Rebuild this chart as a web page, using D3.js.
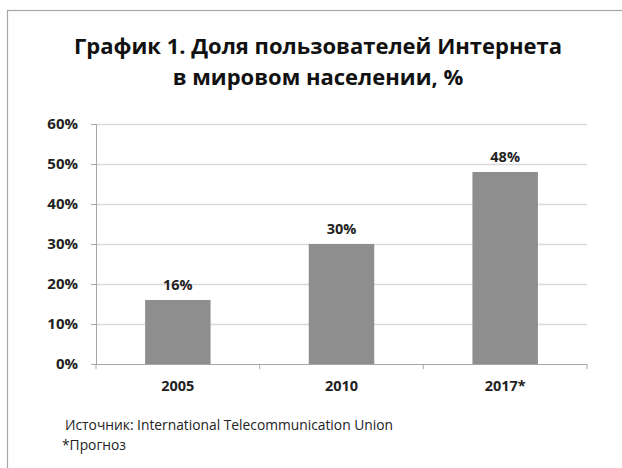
<!DOCTYPE html>
<html>
<head>
<meta charset="utf-8">
<script src="https://cdnjs.cloudflare.com/ajax/libs/d3/7.8.5/d3.min.js"></script>
<style>
body{margin:0;background:#fff;}
svg{display:block;font-family:"Open Sans","Noto Sans",sans-serif;}
</style>
</head>
<body>
<svg id="chart" width="622" height="468"></svg>
<script>
var years = ["2005", "2010", "2017*"];
var share = [16, 30, 48];
var yTicks = [0, 10, 20, 30, 40, 50, 60];
var title = ["График 1. Доля пользователей Интернета", "в мировом населении, %"];
var notes = ["Источник: International Telecommunication Union", "*Прогноз"];

var svg = d3.select("#chart");
var pLeft = 96, pRight = 587, pTop = 124, pBottom = 364;

// frame (right and bottom edges fall outside the picture)
svg.append("rect").attr("x", 7.5).attr("y", 10.5).attr("width", 640).attr("height", 480)
    .attr("fill", "none").attr("stroke", "#a6a6a6").attr("stroke-width", 1.2);

var x = d3.scaleBand().domain(years).range([pLeft, pRight]).paddingInner(0.6).paddingOuter(0.3);
var y = d3.scaleLinear().domain([0, 60]).range([pBottom, pTop]);

// grid
svg.selectAll("line.grid").data(yTicks.slice(1)).enter().append("line")
    .attr("class", "grid")
    .attr("x1", pLeft).attr("x2", pRight)
    .attr("y1", function(d){return Math.round(y(d)) + .5;})
    .attr("y2", function(d){return Math.round(y(d)) + .5;})
    .attr("stroke", "#d9d9d9").attr("stroke-width", 1.3);

// bars
svg.selectAll("rect.bar").data(share).enter().append("rect")
    .attr("class", "bar")
    .attr("x", function(d,i){return x(years[i]);})
    .attr("y", function(d){return y(d);})
    .attr("width", x.bandwidth())
    .attr("height", function(d){return pBottom - y(d);})
    .attr("fill", "#8e8e8e");

svg.selectAll("text.val").data(share).enter().append("text")
    .attr("class", "val")
    .attr("x", function(d,i){return x(years[i]) + x.bandwidth()/2;})
    .attr("y", function(d){return y(d) - 10;})
    .attr("text-anchor", "middle")
    .attr("font-size", 14.5).attr("font-weight", "bold").attr("fill", "#222")
    .text(function(d){return d + "%";});

// y axis
var yAxis = svg.append("g").attr("transform", "translate(" + pLeft + ",0)")
    .call(d3.axisLeft(y).tickValues(yTicks).tickSize(5).tickPadding(13)
        .tickFormat(function(d){return d + "%";}));
yAxis.select(".domain").attr("stroke", "#a6a6a6");
yAxis.selectAll(".tick line").attr("stroke", "#a6a6a6");
yAxis.selectAll("text").attr("font-size", 15).attr("font-weight", "bold")
    .attr("fill", "#222").attr("font-family", "Open Sans");

// x axis
var bounds = [0, 1, 2, 3].map(function(i){return pLeft + i * (pRight - pLeft) / 3;});
svg.append("line").attr("x1", pLeft).attr("x2", pRight)
    .attr("y1", pBottom + .5).attr("y2", pBottom + .5).attr("stroke", "#a6a6a6");
svg.selectAll("line.xt").data(bounds).enter().append("line")
    .attr("class", "xt")
    .attr("x1", function(d){return d;}).attr("x2", function(d){return d;})
    .attr("y1", pBottom).attr("y2", pBottom + 5).attr("stroke", "#a6a6a6");
svg.selectAll("text.xl").data(years).enter().append("text")
    .attr("class", "xl")
    .attr("x", function(d){return x(d) + x.bandwidth()/2;})
    .attr("y", pBottom + 27)
    .attr("text-anchor", "middle")
    .attr("font-size", 14.5).attr("font-weight", "bold").attr("fill", "#222")
    .text(function(d){return d;});

// title
svg.selectAll("text.title").data(title).enter().append("text")
    .attr("class", "title")
    .attr("x", 318).attr("y", function(d,i){return 54 + i * 31;})
    .attr("text-anchor", "middle")
    .attr("font-size", 22).attr("font-weight", "bold").attr("fill", "#111")
    .text(function(d){return d;});

// notes
svg.selectAll("text.note").data(notes).enter().append("text")
    .attr("class", "note")
    .attr("x", function(d,i){return i ? 62 : 65;})
    .attr("y", function(d,i){return 430 + i * 20;})
    .attr("font-size", 13.8).attr("fill", "#222")
    .text(function(d){return d;});
</script>
</body>
</html>
